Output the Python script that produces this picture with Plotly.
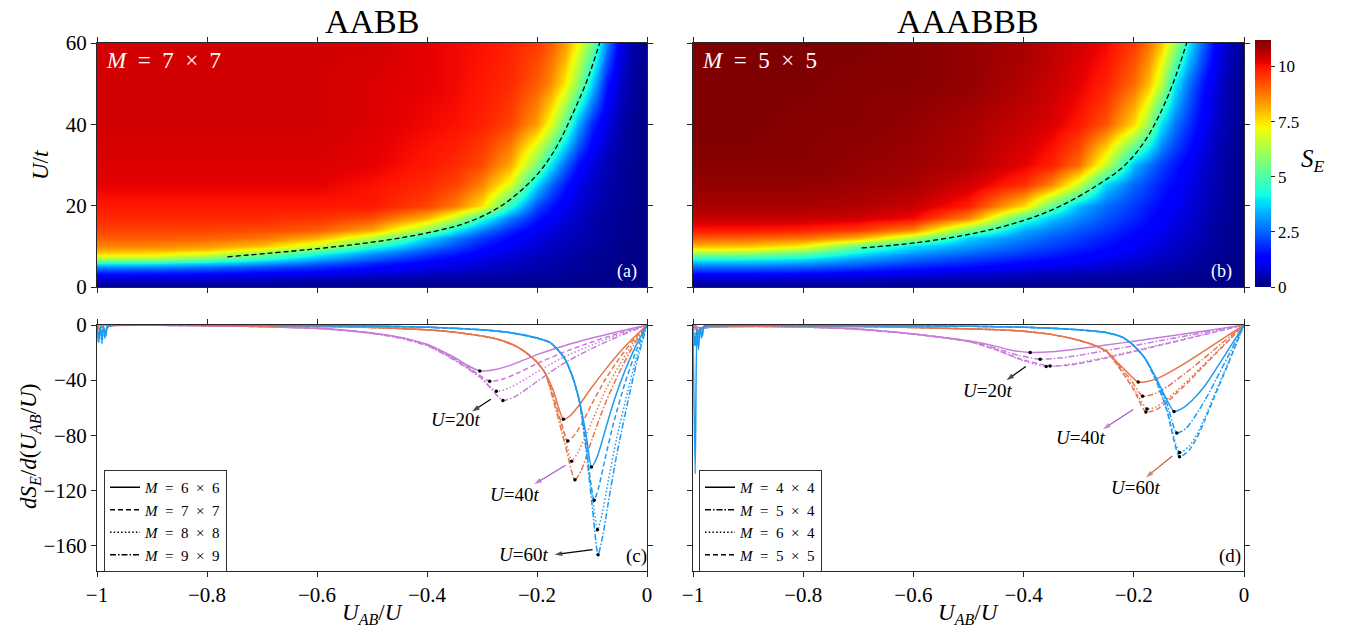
import numpy as np
import plotly.graph_objects as go

FIG_W, FIG_H = 1353, 629
SERIF = "Liberation Serif, DejaVu Serif, serif"


def px_x(p):
    return p / FIG_W


def px_y(p):
    return 1 - p / FIG_H


# ---------------------------------------------------------------- heatmaps
uab_cols = [-1, -0.9, -0.8, -0.7, -0.6, -0.5, -0.4, -0.35, -0.3, -0.25, -0.2,
            -0.175, -0.15, -0.125, -0.1, -0.075, -0.05, -0.025, 0]
u_rows = [0, 1, 2, 3, 4, 5, 6, 7, 8, 9, 10, 12, 14, 17, 20, 25, 30, 40, 50, 60]

se_aabb = [
    [0.1, 0.1, 0.1, 0.1, 0.1, 0.1, 0.1, 0.1, 0.1, 0.1, 0.1, 0.1, 0.1, 0.1, 0.1, 0.1, 0.1, 0.1, 0.1],
    [0.45, 0.45, 0.4, 0.38, 0.34, 0.3, 0.25, 0.22, 0.2, 0.17, 0.15, 0.14, 0.13, 0.12, 0.11, 0.1, 0.1, 0.1, 0.1],
    [0.75, 0.75, 0.7, 0.6, 0.5, 0.45, 0.35, 0.32, 0.28, 0.25, 0.2, 0.18, 0.16, 0.14, 0.12, 0.1, 0.1, 0.1, 0.1],
    [1.3, 1.3, 1.2, 1.05, 0.9, 0.75, 0.55, 0.5, 0.4, 0.35, 0.3, 0.25, 0.2, 0.2, 0.15, 0.12, 0.1, 0.1, 0.1],
    [2.1, 2.05, 1.9, 1.65, 1.4, 1.1, 0.85, 0.7, 0.6, 0.5, 0.4, 0.35, 0.3, 0.25, 0.2, 0.15, 0.1, 0.1, 0.1],
    [2.9, 2.85, 2.6, 2.3, 1.9, 1.5, 1.1, 0.95, 0.8, 0.6, 0.45, 0.4, 0.35, 0.3, 0.2, 0.15, 0.1, 0.1, 0.1],
    [4.3, 4.2, 3.8, 3.2, 2.5, 1.8, 1.2, 1.0, 0.8, 0.6, 0.45, 0.4, 0.3, 0.25, 0.2, 0.15, 0.1, 0.1, 0.1],
    [6.2, 6.1, 5.4, 4.4, 3.3, 2.4, 1.6, 1.3, 1.0, 0.75, 0.55, 0.45, 0.35, 0.3, 0.2, 0.15, 0.1, 0.1, 0.1],
    [7.5, 7.4, 6.8, 5.6, 4.2, 3.0, 2.0, 1.6, 1.2, 0.9, 0.65, 0.55, 0.45, 0.35, 0.25, 0.2, 0.15, 0.1, 0.1],
    [8.2, 8.1, 7.8, 6.9, 5.3, 3.7, 2.4, 1.9, 1.4, 1.05, 0.75, 0.6, 0.5, 0.4, 0.3, 0.2, 0.15, 0.1, 0.1],
    [8.6, 8.6, 8.4, 7.9, 6.6, 4.6, 2.9, 2.2, 1.6, 1.15, 0.8, 0.65, 0.55, 0.45, 0.35, 0.25, 0.15, 0.1, 0.1],
    [9.1, 9.1, 9.0, 8.8, 8.1, 6.4, 3.8, 2.8, 2.0, 1.4, 0.95, 0.75, 0.6, 0.5, 0.35, 0.25, 0.15, 0.1, 0.1],
    [9.4, 9.4, 9.4, 9.3, 9.1, 8.2, 5.9, 4.1, 2.8, 1.8, 1.15, 0.9, 0.7, 0.55, 0.4, 0.3, 0.2, 0.1, 0.1],
    [9.7, 9.7, 9.7, 9.7, 9.6, 9.3, 8.0, 6.6, 4.5, 2.8, 1.6, 1.2, 0.9, 0.65, 0.45, 0.3, 0.2, 0.1, 0.1],
    [9.9, 9.9, 9.9, 9.9, 9.9, 9.9, 9.4, 8.7, 7.5, 4.5, 2.2, 1.6, 1.1, 0.8, 0.55, 0.35, 0.2, 0.15, 0.1],
    [10.2, 10.2, 10.2, 10.2, 10.2, 10.0, 9.7, 9.4, 8.6, 6.9, 3.7, 2.5, 1.6, 1.05, 0.7, 0.45, 0.25, 0.15, 0.1],
    [10.3, 10.3, 10.3, 10.3, 10.3, 10.2, 9.9, 9.7, 9.3, 8.2, 5.6, 3.9, 2.5, 1.5, 0.9, 0.55, 0.3, 0.15, 0.1],
    [10.4, 10.4, 10.4, 10.4, 10.4, 10.3, 10.1, 10.0, 9.8, 9.4, 8.3, 7.0, 5.2, 3.3, 1.8, 0.95, 0.45, 0.2, 0.1],
    [10.4, 10.4, 10.4, 10.4, 10.4, 10.3, 10.2, 10.1, 9.9, 9.7, 9.1, 8.5, 7.4, 5.8, 3.7, 1.7, 0.7, 0.3, 0.1],
    [10.4, 10.4, 10.4, 10.4, 10.4, 10.4, 10.2, 10.1, 10.0, 9.8, 9.5, 9.1, 8.4, 7.2, 5.6, 3.0, 1.1, 0.4, 0.2],
]

se_aaabbb = [
    [0.1, 0.1, 0.1, 0.1, 0.1, 0.1, 0.1, 0.1, 0.1, 0.1, 0.1, 0.1, 0.1, 0.1, 0.1, 0.1, 0.1, 0.1, 0.1],
    [0.45, 0.45, 0.42, 0.4, 0.35, 0.3, 0.25, 0.22, 0.2, 0.17, 0.15, 0.13, 0.12, 0.12, 0.1, 0.1, 0.1, 0.1, 0.1],
    [0.7, 0.7, 0.68, 0.62, 0.55, 0.48, 0.4, 0.36, 0.32, 0.28, 0.24, 0.22, 0.2, 0.18, 0.15, 0.12, 0.1, 0.1, 0.1],
    [1.2, 1.2, 1.15, 1.0, 0.85, 0.7, 0.55, 0.5, 0.45, 0.4, 0.33, 0.3, 0.26, 0.22, 0.18, 0.14, 0.1, 0.1, 0.1],
    [1.9, 1.9, 1.8, 1.55, 1.3, 1.05, 0.85, 0.75, 0.65, 0.57, 0.47, 0.42, 0.37, 0.3, 0.25, 0.2, 0.14, 0.1, 0.1],
    [2.6, 2.6, 2.45, 2.1, 1.75, 1.45, 1.15, 1.0, 0.88, 0.75, 0.62, 0.54, 0.46, 0.39, 0.3, 0.22, 0.15, 0.1, 0.1],
    [3.3, 3.3, 3.1, 2.6, 2.1, 1.75, 1.4, 1.25, 1.1, 0.92, 0.74, 0.64, 0.54, 0.45, 0.35, 0.25, 0.16, 0.1, 0.1],
    [4.3, 4.2, 3.9, 3.1, 2.5, 2.05, 1.65, 1.47, 1.3, 1.07, 0.87, 0.74, 0.63, 0.5, 0.4, 0.3, 0.2, 0.1, 0.1],
    [5.8, 5.7, 5.1, 3.9, 3.0, 2.45, 1.95, 1.72, 1.48, 1.23, 0.98, 0.84, 0.7, 0.58, 0.45, 0.34, 0.2, 0.14, 0.1],
    [7.0, 6.9, 6.2, 4.6, 3.5, 2.8, 2.2, 1.9, 1.65, 1.4, 1.1, 0.95, 0.8, 0.65, 0.5, 0.35, 0.25, 0.15, 0.1],
    [8.0, 7.9, 7.3, 5.3, 3.9, 3.1, 2.4, 2.1, 1.8, 1.5, 1.2, 1.0, 0.85, 0.7, 0.55, 0.4, 0.25, 0.15, 0.1],
    [9.1, 9.0, 8.8, 8.1, 6.2, 3.7, 2.8, 2.4, 2.05, 1.7, 1.35, 1.15, 0.95, 0.8, 0.6, 0.45, 0.3, 0.15, 0.1],
    [9.9, 9.9, 9.8, 9.5, 8.6, 5.6, 3.3, 2.8, 2.35, 1.95, 1.5, 1.3, 1.1, 0.9, 0.7, 0.5, 0.3, 0.15, 0.1],
    [10.5, 10.5, 10.5, 10.4, 10.1, 8.6, 4.8, 3.6, 2.9, 2.3, 1.8, 1.5, 1.25, 1.0, 0.8, 0.55, 0.35, 0.2, 0.1],
    [10.8, 10.8, 10.8, 10.7, 10.5, 9.8, 7.6, 5.3, 3.4, 2.6, 2.0, 1.7, 1.4, 1.15, 0.9, 0.6, 0.4, 0.2, 0.1],
    [11.0, 11.0, 11.0, 10.9, 10.8, 10.4, 9.6, 8.6, 6.6, 3.7, 2.5, 2.1, 1.7, 1.35, 1.0, 0.7, 0.45, 0.25, 0.1],
    [11.1, 11.1, 11.1, 11.0, 10.9, 10.7, 10.2, 9.8, 8.9, 6.6, 3.5, 2.7, 2.1, 1.6, 1.2, 0.8, 0.5, 0.25, 0.1],
    [11.2, 11.2, 11.1, 11.1, 11.0, 10.8, 10.5, 10.3, 9.9, 9.2, 7.6, 6.0, 3.9, 2.7, 1.9, 1.2, 0.7, 0.35, 0.1],
    [11.2, 11.2, 11.2, 11.1, 11.1, 11.0, 10.7, 10.5, 10.2, 9.8, 8.9, 8.0, 6.5, 4.0, 2.6, 1.6, 0.9, 0.4, 0.15],
    [11.2, 11.2, 11.2, 11.2, 11.1, 11.0, 10.8, 10.6, 10.4, 10.1, 9.5, 8.9, 7.9, 6.2, 4.0, 2.5, 1.3, 0.55, 0.2],
]

# dashed boundary lines drawn over the maps
crit_a_x = [-0.763, -0.616, -0.485, -0.386, -0.320, -0.267, -0.221, -0.188, -0.161, -0.135, -0.109, -0.086]
crit_a_u = [7.43, 9.2, 11.3, 13.7, 16.2, 19.8, 24.7, 29.6, 35.3, 42.6, 50.8, 60]
crit_b_x = [-0.694, -0.594, -0.486, -0.399, -0.335, -0.270, -0.219, -0.183, -0.155, -0.129, -0.104]
crit_b_u = [9.6, 10.9, 13.3, 16.4, 19.8, 24.7, 29.6, 35.3, 41.9, 50, 60]

se_ticks = [0, 2.5, 5, 7.5, 10]
se_max = 11.2

# ---------------------------------------------------------------- panel (c): AABB derivatives
c20_left_x = [-1, -0.9, -0.8, -0.7, -0.6, -0.55, -0.5, -0.45, -0.4]
c20_m6_x = c20_left_x + [-0.35, -0.33, -0.304, -0.28, -0.25, -0.2, -0.15, -0.1, -0.05, 0]
c20_m6_y = [0, -0.2, -0.5, -1.2, -2.4, -3.8, -5.8, -8.8, -14,
            -23.5, -28.5, -33.3, -32.6, -29.5, -21.5, -15, -9.5, -4.6, 0]
c20_m7_x = c20_left_x + [-0.35, -0.32, -0.286, -0.26, -0.23, -0.2, -0.15, -0.1, -0.05, 0]
c20_m7_y = [0, -0.2, -0.5, -1.2, -2.4, -3.8, -5.9, -9.0, -14.3,
            -24.5, -32, -40.9, -39, -34, -28, -19.5, -12.3, -5.8, 0]
c20_m8_x = c20_left_x + [-0.35, -0.31, -0.274, -0.25, -0.22, -0.2, -0.15, -0.1, -0.05, 0]
c20_m8_y = [0, -0.2, -0.5, -1.2, -2.5, -3.9, -6.0, -9.2, -14.6,
            -25, -35.5, -48, -45.5, -39, -34, -23, -14.5, -6.8, 0]
c20_m9_x = c20_left_x + [-0.35, -0.30, -0.262, -0.24, -0.2, -0.15, -0.1, -0.05, 0]
c20_m9_y = [0, -0.2, -0.5, -1.2, -2.5, -4.0, -6.1, -9.4, -15,
            -25.5, -39, -54.7, -52, -41, -27.5, -17, -8, 0]

c40_left_x = [-1, -0.995, -0.99, -0.985, -0.98, -0.97, -0.9, -0.8, -0.7, -0.6, -0.5,
              -0.4, -0.35, -0.3, -0.27, -0.24, -0.22, -0.2, -0.185]
c40_left_y = [0, -3, -0.5, -6, -1, -0.3, -0.1, -0.3, -0.6, -1.0, -1.8,
              -3.5, -5.2, -8.0, -10.5, -15, -20, -27, -35]
c40_m6_x = c40_left_x + [-0.17, -0.152, -0.14, -0.125, -0.1, -0.075, -0.05, -0.025, 0]
c40_m6_y = c40_left_y + [-48, -68.4, -66, -59, -45, -32, -20, -9.5, 0]
c40_m7_x = c40_left_x + [-0.17, -0.155, -0.144, -0.13, -0.115, -0.1, -0.075, -0.05, -0.025, 0]
c40_m7_y = c40_left_y + [-52, -72, -84.1, -79, -69, -57, -39, -24, -11, 0]
c40_m8_x = c40_left_x + [-0.17, -0.15, -0.137, -0.125, -0.11, -0.1, -0.075, -0.05, -0.025, 0]
c40_m8_y = c40_left_y + [-54, -80, -98.8, -92, -79, -70, -47, -29, -13, 0]
c40_m9_x = c40_left_x + [-0.17, -0.15, -0.131, -0.12, -0.11, -0.1, -0.075, -0.05, -0.025, 0]
c40_m9_y = c40_left_y + [-55, -85, -112.3, -106, -95, -83, -56, -34, -15, 0]

c60_left_x = [-1, -0.997, -0.994, -0.991, -0.988, -0.985, -0.981, -0.977, -0.9, -0.8, -0.6, -0.5,
              -0.4, -0.3, -0.25, -0.2, -0.175, -0.15, -0.135, -0.123]
c60_mid_y = [-0.05, -0.1, -0.4, -0.8, -1.6, -3.5, -5.5, -9.5, -13, -24, -38, -55]
c60_m6_x = c60_left_x + [-0.111, -0.101, -0.09, -0.075, -0.06, -0.04, -0.02, 0]
c60_m6_y = [0, -9, -1, -12, -2, -6, -1, -0.4] + c60_mid_y + [-79, -103, -95, -75, -55, -33, -15, 0]
c60_m7_x = c60_left_x + [-0.111, -0.104, -0.096, -0.088, -0.075, -0.06, -0.04, -0.02, 0]
c60_m7_y = [0, -12, -2, -8, -1, -10, -2, -0.5] + c60_mid_y + [-85, -110, -127.2, -118, -95, -70, -42, -19, 0]
c60_m8_x = c60_left_x + [-0.111, -0.1, -0.09, -0.082, -0.07, -0.055, -0.035, -0.018, 0]
c60_m8_y = [0, -7, -1, -14, -3, -5, -1, -0.5] + c60_mid_y + [-88, -122, -148.5, -138, -112, -82, -48, -22, 0]
c60_m9_x = c60_left_x + [-0.111, -0.1, -0.089, -0.08, -0.07, -0.055, -0.035, -0.018, 0]
c60_m9_y = [0, -13, -3, -9, -1, -7, -2, -0.5] + c60_mid_y + [-90, -130, -166.7, -152, -128, -94, -56, -26, 0]

c_min_x = [-0.304, -0.286, -0.274, -0.262, -0.152, -0.144, -0.137, -0.131, -0.101, -0.096, -0.090, -0.089]
c_min_y = [-33.3, -40.9, -48.0, -54.7, -68.4, -84.1, -98.8, -112.3, -103.0, -127.2, -148.5, -166.7]

# ---------------------------------------------------------------- panel (d): AAABBB derivatives
d20_left_x = [-1, -0.985, -0.97, -0.9, -0.8, -0.7, -0.6]
d20_left_y = [0, -2.5, -1.6, -1.0, -1.5, -3.0, -6.5]
d20_m44_x = d20_left_x + [-0.5, -0.45, -0.42, -0.388, -0.35, -0.3, -0.25, -0.2, -0.15, -0.1, -0.05, 0]
d20_m44_y = d20_left_y + [-11.5, -15.5, -18.5, -19.9, -19.5, -17.3, -14.5, -11.8, -8.9, -6, -3, 0]
d20_m54_x = d20_left_x + [-0.5, -0.45, -0.41, -0.37, -0.33, -0.3, -0.25, -0.2, -0.15, -0.1, -0.05, 0]
d20_m54_y = d20_left_y + [-11.8, -17, -22, -24.8, -23.8, -22, -18.5, -15, -11.2, -7.5, -3.7, 0]
d20_m64_x = d20_left_x + [-0.5, -0.45, -0.4, -0.359, -0.33, -0.3, -0.25, -0.2, -0.15, -0.1, -0.05, 0]
d20_m64_y = d20_left_y + [-12, -18, -26, -30.1, -29.3, -27.5, -23.3, -18.8, -14.1, -9.4, -4.7, 0]
d20_m55_x = d20_left_x + [-0.5, -0.45, -0.4, -0.352, -0.32, -0.3, -0.25, -0.2, -0.15, -0.1, -0.05, 0]
d20_m55_y = d20_left_y + [-12, -18, -25.5, -29.7, -29.2, -28, -24, -19.3, -14.5, -9.7, -4.8, 0]

d40_left_x = [-1, -0.99, -0.98, -0.97, -0.9, -0.8, -0.7, -0.6, -0.5, -0.45, -0.4, -0.35, -0.3, -0.27, -0.25]
d40_left_y = [0, -4, -1, -0.8, -0.5, -0.6, -1.1, -1.8, -2.8, -3.4, -4.5, -6.8, -11, -15, -19]
d40_m44_x = d40_left_x + [-0.23, -0.21, -0.192, -0.17, -0.15, -0.125, -0.1, -0.075, -0.05, -0.025, 0]
d40_m44_y = d40_left_y + [-27, -35, -41.4, -40.5, -37.5, -32, -26, -19.5, -13, -6.5, 0]
d40_m54_x = d40_left_x + [-0.23, -0.205, -0.184, -0.16, -0.14, -0.12, -0.1, -0.075, -0.05, -0.025, 0]
d40_m54_y = d40_left_y + [-28, -40, -51.7, -49.5, -45, -39, -33, -25, -16.5, -8.2, 0]
d40_m64_x = d40_left_x + [-0.23, -0.2, -0.176, -0.16, -0.14, -0.12, -0.1, -0.075, -0.05, -0.025, 0]
d40_m64_y = d40_left_y + [-29, -46, -61, -59.5, -54, -47, -39.5, -29.5, -19.7, -9.8, 0]
d40_m55_x = d40_left_x + [-0.23, -0.2, -0.178, -0.16, -0.14, -0.12, -0.1, -0.075, -0.05, -0.025, 0]
d40_m55_y = d40_left_y + [-29, -47, -63.2, -61.5, -56, -48.5, -41, -30.5, -20.3, -10.1, 0]

d60_left_x = [-1, -0.996, -0.993, -0.99, -0.987, -0.984, -0.98, -0.975, -0.95, -0.8, -0.6, -0.5,
              -0.4, -0.35, -0.3, -0.25, -0.22, -0.2, -0.18]
d60_mid_y = [-0.3, -0.3, -0.6, -0.9, -1.6, -2.3, -3.5, -5.5, -9, -15, -24]
d60_m44_x = d60_left_x + [-0.16, -0.143, -0.127, -0.11, -0.09, -0.07, -0.05, -0.03, -0.015, 0]
d60_m44_y = [0, -108, -4, -18, -2, -8, -1, -0.5] + d60_mid_y + [-38, -52, -62.7, -60, -53, -43.5, -31.5, -19, -9.5, 0]
d60_m54_x = d60_left_x + [-0.16, -0.14, -0.122, -0.105, -0.09, -0.07, -0.05, -0.03, -0.015, 0]
d60_m54_y = [0, -14, -3, -9, -2, -6, -1, -0.5] + d60_mid_y + [-39, -57, -78.4, -75, -67, -54, -39, -23.5, -11.8, 0]
d60_m64_x = d60_left_x + [-0.16, -0.14, -0.117, -0.1, -0.085, -0.07, -0.05, -0.03, -0.015, 0]
d60_m64_y = [0, -10, -2, -12, -1, -5, -1, -0.5] + d60_mid_y + [-40, -61, -92.6, -88, -79, -66, -47, -28.5, -14.2, 0]
d60_m55_x = d60_left_x + [-0.16, -0.14, -0.117, -0.1, -0.085, -0.07, -0.05, -0.03, -0.015, 0]
d60_m55_y = [0, -16, -4, -7, -2, -10, -2, -0.5] + d60_mid_y + [-40, -62, -95.6, -91, -81.5, -68, -48.5, -29.5, -14.7, 0]

d_min_x = [-0.388, -0.370, -0.359, -0.352, -0.192, -0.184, -0.176, -0.178, -0.127, -0.122, -0.117, -0.117]
d_min_y = [-19.9, -24.8, -30.1, -29.7, -41.4, -51.7, -61.0, -63.2, -62.7, -78.4, -92.6, -95.6]

x_ticks = [-1, -0.8, -0.6, -0.4, -0.2, 0]
u_ticks = [0, 20, 40, 60]
ds_ticks = [0, -40, -80, -120, -160]

# ---------------------------------------------------------------- styling
PURPLE = "#C67BDA"
ORANGE = "#E9744C"
BLUE = "#1D9BF0"
EN = "\u2002"

DASHES = {
    "solid": "solid",
    "dash": "5px,3px",
    "dot": "1.5px,2.2px",
    "dashdot": "6px,2px,1.5px,2px",
}


def jet_scale():
    stops = [0, 0.11, 0.125, 0.34, 0.35, 0.375, 0.5, 0.64, 0.65, 0.66, 0.89, 0.91, 1.0]
    out = []
    for s in stops:
        r = np.interp(s, [0, 0.35, 0.66, 0.89, 1], [0, 0, 1, 1, 0.5])
        g = np.interp(s, [0, 0.125, 0.375, 0.64, 0.91, 1], [0, 0, 1, 1, 0, 0])
        b = np.interp(s, [0, 0.11, 0.34, 0.65, 1], [0.5, 1, 1, 0, 0])
        out.append([s, f"rgb({int(r*255)},{int(g*255)},{int(b*255)})"])
    return out


def m_label(a, b):
    return f"<i>M</i>{EN}={EN}{a}{EN}×{EN}{b}"


fig = go.Figure()

fig.add_trace(go.Heatmap(x=uab_cols, y=u_rows, z=se_aabb, coloraxis="coloraxis",
                         zsmooth="best", xaxis="x", yaxis="y", hoverinfo="skip"))
fig.add_trace(go.Heatmap(x=uab_cols, y=u_rows, z=se_aaabbb, coloraxis="coloraxis",
                         zsmooth="best", xaxis="x2", yaxis="y2", hoverinfo="skip"))
fig.add_trace(go.Scatter(x=crit_a_x, y=crit_a_u, mode="lines", xaxis="x", yaxis="y",
                         line=dict(color="black", width=1.3, dash="5px,3px", shape="spline"),
                         showlegend=False, hoverinfo="skip"))
fig.add_trace(go.Scatter(x=crit_b_x, y=crit_b_u, mode="lines", xaxis="x2", yaxis="y2",
                         line=dict(color="black", width=1.3, dash="5px,3px", shape="spline"),
                         showlegend=False, hoverinfo="skip"))


def curve(xs, ys, color, dash, xa, ya):
    fig.add_trace(go.Scatter(x=xs, y=ys, mode="lines", xaxis=xa, yaxis=ya,
                             line=dict(color=color, width=1.5, dash=DASHES[dash],
                                       shape="spline", smoothing=0.6),
                             showlegend=False, hoverinfo="skip"))


panel_c = [
    (c20_m6_x, c20_m6_y, PURPLE, "solid"), (c20_m7_x, c20_m7_y, PURPLE, "dash"),
    (c20_m8_x, c20_m8_y, PURPLE, "dot"), (c20_m9_x, c20_m9_y, PURPLE, "dashdot"),
    (c40_m6_x, c40_m6_y, ORANGE, "solid"), (c40_m7_x, c40_m7_y, ORANGE, "dash"),
    (c40_m8_x, c40_m8_y, ORANGE, "dot"), (c40_m9_x, c40_m9_y, ORANGE, "dashdot"),
    (c60_m6_x, c60_m6_y, BLUE, "solid"), (c60_m7_x, c60_m7_y, BLUE, "dash"),
    (c60_m8_x, c60_m8_y, BLUE, "dot"), (c60_m9_x, c60_m9_y, BLUE, "dashdot"),
]
for xs, ys, col, d in panel_c:
    curve(xs, ys, col, d, "x3", "y3")

panel_d = [
    (d20_m44_x, d20_m44_y, PURPLE, "solid"), (d20_m54_x, d20_m54_y, PURPLE, "dashdot"),
    (d20_m64_x, d20_m64_y, PURPLE, "dot"), (d20_m55_x, d20_m55_y, PURPLE, "dash"),
    (d40_m44_x, d40_m44_y, ORANGE, "solid"), (d40_m54_x, d40_m54_y, ORANGE, "dashdot"),
    (d40_m64_x, d40_m64_y, ORANGE, "dot"), (d40_m55_x, d40_m55_y, ORANGE, "dash"),
    (d60_m44_x, d60_m44_y, BLUE, "solid"), (d60_m54_x, d60_m54_y, BLUE, "dashdot"),
    (d60_m64_x, d60_m64_y, BLUE, "dot"), (d60_m55_x, d60_m55_y, BLUE, "dash"),
]
for xs, ys, col, d in panel_d:
    curve(xs, ys, col, d, "x4", "y4")

fig.add_trace(go.Scatter(x=c_min_x, y=c_min_y, mode="markers", xaxis="x3", yaxis="y3",
                         marker=dict(color="black", size=3.5), showlegend=False, hoverinfo="skip"))
fig.add_trace(go.Scatter(x=d_min_x, y=d_min_y, mode="markers", xaxis="x4", yaxis="y4",
                         marker=dict(color="black", size=3.5), showlegend=False, hoverinfo="skip"))


def arrow(tail, head, color, xa, ya):
    # shaft from the curve to the label, arrowhead oriented along the shaft
    fig.add_trace(go.Scatter(x=[tail[0], head[0]], y=[tail[1], head[1]], mode="lines+markers",
                             xaxis=xa, yaxis=ya, line=dict(color=color, width=1.2),
                             marker=dict(symbol="arrow", size=[0, 8], angleref="previous",
                                         color=color, line=dict(width=0)),
                             showlegend=False, hoverinfo="skip"))


arrow((-0.284, -53.9), (-0.318, -62.8), "black", "x3", "y3")
arrow((-0.148, -101.7), (-0.205, -115.5), "#A558C8", "x3", "y3")
arrow((-0.099, -163.0), (-0.168, -166.6), "black", "x3", "y3")
arrow((-0.396, -30.1), (-0.431, -40.0), "black", "x4", "y4")
arrow((-0.201, -61.3), (-0.256, -75.6), "#A558C8", "x4", "y4")
arrow((-0.130, -95.1), (-0.178, -110.6), "#B5603E", "x4", "y4")

# legend entries (black samples)
legend_c = [(6, 6, "solid"), (7, 7, "dash"), (8, 8, "dot"), (9, 9, "dashdot")]
legend_d = [(4, 4, "solid"), (5, 4, "dashdot"), (6, 4, "dot"), (5, 5, "dash")]
for a, b, d in legend_c:
    fig.add_trace(go.Scatter(x=[None], y=[None], mode="lines", xaxis="x3", yaxis="y3",
                             line=dict(color="black", width=1.5, dash=DASHES[d]),
                             name=m_label(a, b), legend="legend"))
for a, b, d in legend_d:
    fig.add_trace(go.Scatter(x=[None], y=[None], mode="lines", xaxis="x4", yaxis="y4",
                             line=dict(color="black", width=1.5, dash=DASHES[d]),
                             name=m_label(a, b), legend="legend2"))

# ---------------------------------------------------------------- axes
AX_COLOR = "#262626"
tick_font = dict(family=SERIF, size=21, color="black")


def axis(domain, anchor, tickvals, rng, labels=True):
    return dict(domain=domain, anchor=anchor, range=rng, tickvals=tickvals,
                showticklabels=labels, ticks="outside", ticklen=5, tickwidth=1,
                tickcolor=AX_COLOR, showline=True, linecolor=AX_COLOR, linewidth=1,
                mirror="allticks", showgrid=False, zeroline=False, tickfont=tick_font,
                automargin=False)


xa = [px_x(97), px_x(647)]
xb = [px_x(693), px_x(1244)]
ytop = [px_y(287), px_y(43)]
ybot = [px_y(571), px_y(325)]

ann = []


def text(x, y, s, size, color="black", xref="paper", yref="paper", angle=0, xanchor="center"):
    ann.append(dict(x=x, y=y, xref=xref, yref=yref, text=s, showarrow=False,
                    font=dict(family=SERIF, size=size, color=color), textangle=angle,
                    xanchor=xanchor, yanchor="middle"))


text(px_x(372), px_y(22), "AABB", 34)
text(px_x(968), px_y(22), "AAABBB", 34)
text(px_x(40), px_y(165), "<i>U</i>/<i>t</i>", 23, angle=-90)
text(px_x(30), px_y(447), "<i>dS</i><sub><i>E</i></sub>/<i>d</i>(<i>U</i><sub><i>AB</i></sub>/<i>U</i>)",
     23, angle=-90)
text(px_x(372), px_y(614), "<i>U</i><sub><i>AB</i></sub>/<i>U</i>", 23)
text(px_x(968), px_y(614), "<i>U</i><sub><i>AB</i></sub>/<i>U</i>", 23)
text(px_x(1313), px_y(160), "<i>S</i><sub><i>E</i></sub>", 25)

text(-0.988, 55.8, m_label(7, 7), 23, color="white", xref="x", yref="y", xanchor="left")
text(-0.988, 55.8, m_label(5, 5), 23, color="white", xref="x2", yref="y2", xanchor="left")
text(-0.036, 3.7, "(a)", 18, color="white", xref="x", yref="y")
text(-0.04, 3.7, "(b)", 18, color="white", xref="x2", yref="y2")
text(-0.02, -167.6, "(c)", 19, xref="x3", yref="y3")
text(-0.025, -167.6, "(d)", 19, xref="x4", yref="y4")

text(-0.349, -68.9, "<i>U</i>=20<i>t</i>", 19, xref="x3", yref="y3")
text(-0.241, -123.3, "<i>U</i>=40<i>t</i>", 19, xref="x3", yref="y3")
text(-0.225, -166.7, "<i>U</i>=60<i>t</i>", 19, xref="x3", yref="y3")
text(-0.465, -47.3, "<i>U</i>=20<i>t</i>", 19, xref="x4", yref="y4")
text(-0.296, -81.6, "<i>U</i>=40<i>t</i>", 19, xref="x4", yref="y4")
text(-0.197, -117.9, "<i>U</i>=60<i>t</i>", 19, xref="x4", yref="y4")

legend_style = dict(xanchor="left", yanchor="top", bgcolor="white", bordercolor="#333",
                    borderwidth=1, font=dict(family=SERIF, size=15, color="black"),
                    tracegroupgap=0, itemwidth=30)

fig.update_layout(
    width=FIG_W, height=FIG_H,
    margin=dict(l=0, r=0, t=0, b=0, autoexpand=False),
    paper_bgcolor="white", plot_bgcolor="white",
    xaxis=axis(xa, "y", x_ticks, [-1, 0], labels=False),
    yaxis=axis(ytop, "x", u_ticks, [0, 60]),
    xaxis2=axis(xb, "y2", x_ticks, [-1, 0], labels=False),
    yaxis2=axis(ytop, "x2", u_ticks, [0, 60], labels=False),
    xaxis3=axis(xa, "y3", x_ticks, [-1, 0]),
    yaxis3=axis(ybot, "x3", ds_ticks, [-178.5, 0]),
    xaxis4=axis(xb, "y4", x_ticks, [-1, 0]),
    yaxis4=axis(ybot, "x4", ds_ticks, [-178.5, 0], labels=False),
    coloraxis=dict(
        colorscale=jet_scale(), cmin=0, cmax=se_max,
        colorbar=dict(x=px_x(1255), xanchor="left", y=px_y(287), yanchor="bottom",
                      len=(287 - 40) / FIG_H, lenmode="fraction", thickness=16,
                      xpad=0, ypad=0, outlinewidth=0, ticks="outside", ticklen=4,
                      tickcolor=AX_COLOR, tickvals=se_ticks,
                      ticktext=["0", "2.5", "5", "7.5", "10"],
                      tickfont=dict(family=SERIF, size=17, color="black")),
    ),
    legend=dict(x=px_x(104), y=px_y(470), **legend_style),
    legend2=dict(x=px_x(699), y=px_y(470), **legend_style),
    annotations=ann,
    showlegend=True,
)

fig.write_html("out.html")
